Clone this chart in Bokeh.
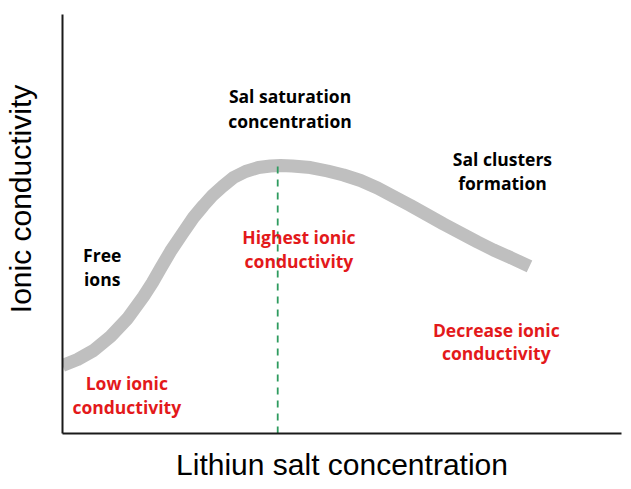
from bokeh.plotting import figure
from bokeh.models import Range1d, ColumnDataSource
from bokeh.core.properties import value
from bokeh.embed import file_html
from bokeh.resources import INLINE

# Curve: lithium salt concentration (a.u.) vs ionic conductivity (a.u.)
conc = [0.000, 0.268, 0.555, 0.859, 1.163, 1.449, 1.610, 1.753, 1.932, 2.147,
        2.343, 2.522, 2.683, 2.862, 3.059, 3.274, 3.506, 3.721, 3.900, 4.114,
        4.436, 4.741, 5.027, 5.331, 5.635, 5.921, 6.225, 6.529, 6.816, 7.120,
        7.424, 7.710, 8.014, 8.354]
cond = [1.623, 1.766, 1.981, 2.315, 2.745, 3.270, 3.604, 3.938, 4.344, 4.773,
        5.155, 5.442, 5.680, 5.895, 6.110, 6.253, 6.348, 6.384, 6.396, 6.384,
        6.348, 6.265, 6.170, 6.038, 5.859, 5.656, 5.442, 5.215, 5.000, 4.785,
        4.570, 4.379, 4.200, 3.986]

# Saturation concentration marker
sat_x = [3.85, 3.85]
sat_y = [0.0, 6.44]

# Annotations (black)
black_text = ["Sal saturation", "concentration", "Sal clusters", "formation", "Free", "ions"]
black_x = [4.07, 4.07, 7.87, 7.87, 0.71, 0.71]
black_y = [8.06, 7.46, 6.55, 5.98, 4.26, 3.69]

# Annotations (red)
red_text = ["Highest ionic", "conductivity", "Low ionic", "conductivity",
            "Decrease ionic", "conductivity"]
red_x = [4.23, 4.23, 1.15, 1.15, 7.76, 7.76]
red_y = [4.69, 4.12, 1.21, 0.63, 2.47, 1.92]

x_title = "Lithiun salt concentration"
y_title = "Ionic conductivity"

p = figure(width=631, height=489, output_backend="svg", toolbar_location=None,
           x_range=Range1d(0, 10), y_range=Range1d(0, 10),
           min_border_left=62, min_border_right=10, min_border_top=14,
           min_border_bottom=56)
p.outline_line_color = None
p.grid.visible = False
p.background_fill_color = "white"
p.border_fill_color = "white"

for ax in (p.xaxis, p.yaxis):
    ax.ticker = []
    ax.major_tick_out = 0
    ax.major_tick_in = 0
    ax.minor_tick_out = 0
    ax.minor_tick_in = 0
    ax.major_label_standoff = 0
    ax.axis_line_width = 2
    ax.axis_line_color = "#1a1a1a"
    ax.axis_label_text_font = "Liberation Sans"
    ax.axis_label_text_font_style = "normal"
    ax.axis_label_text_color = "black"

p.xaxis.axis_label = x_title
p.xaxis.axis_label_text_font_size = "30px"
p.xaxis.axis_label_standoff = 14

# leading non-breaking spaces lift the centred title a little, as in the original
p.yaxis.axis_label = "\u00a0" * 6 + y_title
p.yaxis.axis_label_text_font_size = "30px"
p.yaxis.axis_label_standoff = 26

p.line(conc, cond, line_width=13, line_color="#bfbfbf", line_cap="butt", line_join="round")
p.line(sat_x, sat_y, line_width=1.8, line_color="#2e9b5f", line_dash="7 6")

bsrc = ColumnDataSource(dict(x=black_x, y=black_y, t=black_text))
rsrc = ColumnDataSource(dict(x=red_x, y=red_y, t=red_text))
p.text("x", "y", text="t", source=bsrc, text_font=value("Open Sans"),
       text_font_style="bold", text_font_size="17.5px", text_color="black",
       text_align="center", text_baseline="alphabetic")
p.text("x", "y", text="t", source=rsrc, text_font=value("Open Sans"),
       text_font_style="bold", text_font_size="17.5px", text_color="#e3191b",
       text_align="center", text_baseline="alphabetic")

open("out.html", "w").write(file_html(p, INLINE))
